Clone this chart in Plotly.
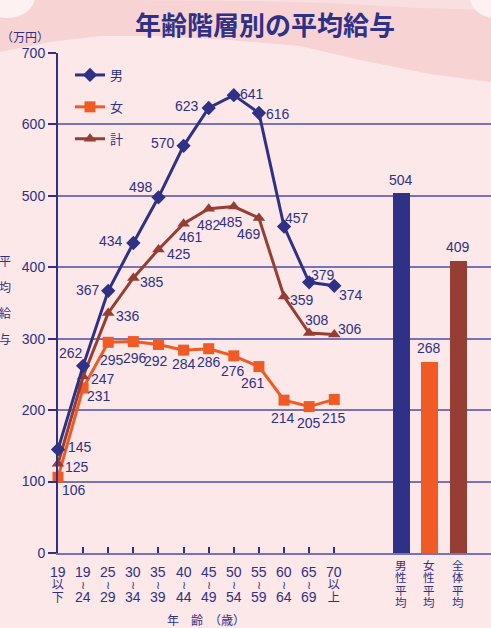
import plotly.graph_objects as go

# ---------------- data ----------------
age_labels = ["19\n以\n下", "19\n≀\n24", "25\n≀\n29", "30\n≀\n34", "35\n≀\n39", "40\n≀\n44",
              "45\n≀\n49", "50\n≀\n54", "55\n≀\n59", "60\n≀\n64", "65\n≀\n69", "70\n以\n上"]
men = [145, 262, 367, 434, 498, 570, 623, 641, 616, 457, 379, 374]
women = [106, 231, 295, 296, 292, 284, 286, 276, 261, 214, 205, 215]
total = [125, 247, 336, 385, 425, 461, 482, 485, 469, 359, 308, 306]
avg_labels = ["男性平均", "女性平均", "全体平均"]
avg_values = [504, 268, 409]
y_ticks = [0, 100, 200, 300, 400, 500, 600, 700]

# ---------------- style ----------------
NAVY = "#2e3186"
ORANGE = "#f05a24"
BROWN = "#963e33"
GRID = "#7674b6"
NUMFONT = "Liberation Sans Narrow, Arial Narrow, Liberation Sans, Noto Sans CJK JP"
CJK = "Noto Sans CJK JP, Noto Sans, sans-serif"

W, H = 491, 628
L, R, T, B = 58, 491, 53, 553


def px(xp, yp):
    return (xp - L) / (R - L), (B - yp) / (B - T)


age_x = list(range(len(age_labels)))
avg_x = [13.67, 14.79, 15.94]

# label offsets (pixels) from each point
men_off = [(22, -2), (-12, -13), (-20, -1), (-22, -2), (-17, -10), (-21, -3),
           (-22, -2), (18, -1), (19, 1), (13, -9), (14, -7), (17, 9)]
women_off = [(16, 13), (16, 8), (4, 18), (2, 16), (-2, 17), (0, 14),
             (0, 13), (-1, 15), (-6, 16), (-1, 18), (0, 16), (0, 19)]
total_off = [(19, 3), (20, 2), (20, 3), (19, 4), (21, 5), (7, 13),
             (0, 16), (-3, 15), (-10, 16), (18, 3), (8, -13), (16, -5)]

fig = go.Figure()

fig.add_trace(go.Bar(
    x=avg_x, y=avg_values, width=0.665,
    marker=dict(color=[NAVY, ORANGE, BROWN], line=dict(width=0)),
    showlegend=False, hoverinfo="skip"))

series = [
    ("女", women, ORANGE, "square", 11, 2),
    ("計", total, BROWN, "triangle-up", 11, 3),
    ("男", men, NAVY, "diamond", 11, 1),
]
for name, vals, col, sym, size, rank in series:
    fig.add_trace(go.Scatter(
        x=age_x, y=vals, name=name, legendgroup=name, legendrank=rank,
        mode="lines+markers",
        line=dict(color=col, width=3),
        marker=dict(symbol=sym, size=size, color=col, line=dict(width=0)),
        cliponaxis=False))

annotations = []


def label(x, y, txt, dx, dy):
    annotations.append(dict(
        x=x, y=y, xref="x", yref="y", text=txt, showarrow=False,
        xanchor="center", yanchor="middle", xshift=dx, yshift=-dy,
        font=dict(family=NUMFONT, size=14, color=NAVY)))


for vals, offs in [(men, men_off), (women, women_off), (total, total_off)]:
    for xi, v, (dx, dy) in zip(age_x, vals, offs):
        label(xi, v, str(v), dx, dy)
for xi, v in zip(avg_x, avg_values):
    label(xi, v, str(v), 0, -13.5)


def span(t, size):
    return f"<span style='font-size:{size}px'>{t}</span>"


for xi, lab in zip(age_x, age_labels):
    parts = []
    for part in lab.split("\n"):
        if part.isdigit():
            parts.append(span(part, 14))
        elif part == "≀":
            parts.append(span(part, 11))
        else:
            parts.append(span(part, 12))
    annotations.append(dict(
        x=xi, xref="x", y=0, yref="y", yanchor="top", xanchor="center",
        yshift=-9, text="<br>".join(parts), showarrow=False,
        font=dict(family=NUMFONT + ", " + CJK, size=9.6, color=NAVY)))
for xi, lab in zip(avg_x, avg_labels):
    annotations.append(dict(
        x=xi, xref="x", y=0, yref="y", yanchor="top", xanchor="center",
        yshift=-2, text="<br>".join(span(ch, 11.5) for ch in lab), showarrow=False,
        font=dict(family=CJK, size=9.5, color=NAVY)))

# y-axis title, vertical
for i, ch in enumerate("平均給与"):
    xx, yy = px(5, 260 + 26.3 * i)
    annotations.append(dict(x=xx, y=yy, xref="paper", yref="paper", text=ch, showarrow=False,
                            xanchor="center", yanchor="middle",
                            font=dict(family=CJK, size=12, color=NAVY)))
xx, yy = px(25, 37)
annotations.append(dict(x=xx, y=yy, xref="paper", yref="paper", text="（万円）", showarrow=False,
                        xanchor="center", yanchor="middle", font=dict(family=CJK, size=12, color=NAVY)))
xx, yy = px(206, 619)
annotations.append(dict(x=xx, y=yy, xref="paper", yref="paper", text="年　齢　（歳）", showarrow=False,
                        xanchor="center", yanchor="middle", font=dict(family=CJK, size=12, color=NAVY)))


def path(points):
    s = ""
    for k, (a, b) in enumerate(points):
        xa, yb = px(a, b)
        s += ("M" if k == 0 else "L") + f"{xa:.4f},{yb:.4f} "
    return s + "Z"


band = [(0, 0), (491, 0), (491, 82), (430, 74), (360, 60), (300, 46), (230, 40), (160, 36),
        (100, 36), (50, 42), (0, 52)]
top_light = [(120, 0), (491, 0), (491, 10), (420, 8), (330, 3), (250, 1)]
shapes = [
    dict(type="path", xref="paper", yref="paper", path=path(band),
         fillcolor="#f7d3d3", line=dict(width=0), layer="below"),
    dict(type="path", xref="paper", yref="paper", path=path(top_light),
         fillcolor="#f9e0e0", line=dict(width=0), layer="below"),
]
cx0, cy0 = px(-20, -25)
cx1, cy1 = px(35, 18)
shapes.append(dict(type="circle", xref="paper", yref="paper", x0=cx0, y0=cy0, x1=cx1, y1=cy1,
                   fillcolor="#fdf1f1", line=dict(width=0), layer="below"))
cx0, cy0 = px(470, -25)
cx1, cy1 = px(520, 18)
shapes.append(dict(type="circle", xref="paper", yref="paper", x0=cx0, y0=cy0, x1=cx1, y1=cy1,
                   fillcolor="#fdf1f1", line=dict(width=0), layer="below"))

lx, ly = px(70, 60)
fig.update_layout(
    width=W, height=H,
    margin=dict(l=L, r=W - R, t=T, b=H - B, pad=0),
    paper_bgcolor="#fce8e8", plot_bgcolor="rgba(0,0,0,0)",
    title=dict(text="<b>年齢階層別の平均給与</b>", x=265 / W, y=1 - 26 / H,
               xanchor="center", yanchor="middle", xref="container", yref="container",
               font=dict(family=CJK, size=26, color=NAVY)),
    showlegend=True,
    legend=dict(x=lx, y=ly, xanchor="left", yanchor="top", bgcolor="rgba(0,0,0,0)",
                font=dict(family=CJK, size=13, color=NAVY), tracegroupgap=12,
                traceorder="grouped", itemwidth=30),
    xaxis=dict(range=[0, 17.24], showgrid=False, zeroline=False, showline=True,
               linecolor=GRID, linewidth=2, tickvals=age_x, ticks="inside", ticklen=6,
               tickwidth=1.5, tickcolor=NAVY, showticklabels=False, fixedrange=True),
    yaxis=dict(range=[0, 700], tickvals=y_ticks, showgrid=True, gridcolor=GRID, gridwidth=1.5,
               zeroline=False, showline=True, linecolor=NAVY, linewidth=2, ticks="outside",
               ticklen=8, tickwidth=1.5, tickcolor=NAVY,
               tickfont=dict(family=NUMFONT, size=14, color=NAVY), fixedrange=True),
    annotations=annotations,
    shapes=shapes,
    bargap=0,
)

fig.write_html("out.html")
